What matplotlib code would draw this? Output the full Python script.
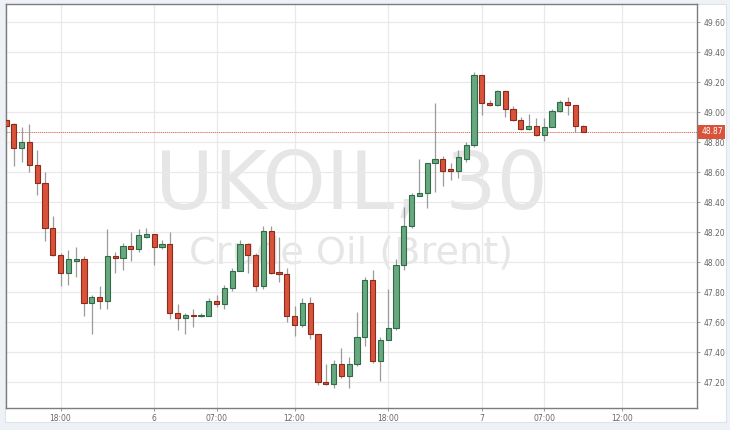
import matplotlib
matplotlib.use("Agg")
import matplotlib.pyplot as plt
import matplotlib.transforms as mtransforms
from matplotlib.patches import Rectangle
import numpy as np

# 30 minute candles (index 0 = 18:00 of day 5)
first_index = -7
opens = [48.95, 48.92, 48.76, 48.80, 48.65, 48.53, 48.23,
         48.05, 47.93, 48.01, 48.02, 47.73, 47.77, 47.74, 48.04, 48.03, 48.11,
         48.09, 48.17, 48.19, 48.10, 48.12, 47.66, 47.63, 47.65, 47.64, 47.64,
         47.74, 47.72, 47.83, 47.94, 48.12, 48.05, 47.84, 48.21, 47.935, 47.925,
         47.64, 47.58, 47.73, 47.52, 47.20, 47.19, 47.32, 47.24, 47.32, 47.50,
         47.88, 47.34, 47.48, 47.56, 47.98, 48.24, 48.445, 48.46, 48.66, 48.69,
         48.62, 48.61, 48.69, 48.78, 49.25, 49.06, 49.05, 49.14, 49.02, 48.95,
         48.89, 48.91, 48.85, 48.90, 49.01, 49.07, 49.05, 48.91]
highs = [48.96, 48.93, 48.90, 48.92, 48.75, 48.60, 48.31,
         48.06, 48.08, 48.10, 48.04, 47.78, 47.84, 48.22, 48.07, 48.13, 48.20,
         48.22, 48.23, 48.19, 48.15, 48.20, 47.72, 47.66, 47.69, 47.66, 47.76,
         47.78, 47.85, 47.96, 48.15, 48.13, 48.06, 48.24, 48.24, 48.17, 47.96,
         47.71, 47.76, 47.77, 47.52, 47.32, 47.35, 47.43, 47.37, 47.67, 47.90,
         47.95, 47.50, 47.82, 48.02, 48.37, 48.46, 48.69, 48.66, 49.06, 48.71,
         48.66, 48.75, 48.80, 49.27, 49.25, 49.085, 49.15, 49.14, 49.04, 48.97,
         48.99, 48.96, 48.96, 49.02, 49.08, 49.10, 49.05, 48.915]
lows = [48.84, 48.64, 48.67, 48.60, 48.45, 48.14, 48.04,
        47.84, 47.85, 47.90, 47.64, 47.52, 47.69, 47.69, 47.93, 47.95, 48.01,
        48.07, 48.16, 47.98, 48.09, 47.62, 47.55, 47.52, 47.57, 47.635, 47.64,
        47.70, 47.69, 47.81, 47.94, 47.93, 47.81, 47.82, 47.92, 47.87, 47.60,
        47.51, 47.57, 47.49, 47.18, 47.18, 47.16, 47.23, 47.16, 47.31, 47.44,
        47.33, 47.21, 47.48, 47.55, 47.95, 48.23, 48.44, 48.36, 48.47, 48.51,
        48.55, 48.56, 48.67, 48.77, 48.98, 49.04, 49.04, 48.97, 48.94, 48.885,
        48.885, 48.845, 48.81, 48.90, 49.00, 48.985, 48.87, 48.87]
closes = [48.91, 48.76, 48.80, 48.65, 48.53, 48.23, 48.05,
          47.93, 48.02, 48.02, 47.73, 47.77, 47.74, 48.04, 48.03, 48.11, 48.09,
          48.18, 48.19, 48.10, 48.12, 47.66, 47.63, 47.65, 47.64, 47.645, 47.74,
          47.72, 47.83, 47.94, 48.12, 48.05, 47.84, 48.21, 47.93, 47.925, 47.64,
          47.58, 47.73, 47.525, 47.20, 47.19, 47.32, 47.24, 47.32, 47.50, 47.88,
          47.34, 47.48, 47.56, 47.98, 48.24, 48.45, 48.46, 48.66, 48.69, 48.61,
          48.61, 48.70, 48.78, 49.25, 49.06, 49.05, 49.14, 49.02, 48.95, 48.89,
          48.91, 48.85, 48.90, 49.01, 49.07, 49.05, 48.91, 48.87]

last_price = 48.87
tick_index = [0, 12, 20, 30, 42, 54, 62, 72]
tick_text = ["18:00", "6", "07:00", "12:00", "18:00", "7", "07:00", "12:00"]
price_ticks = [47.20, 47.40, 47.60, 47.80, 48.00, 48.20, 48.40,
               48.60, 48.80, 49.00, 49.20, 49.40, 49.60]

up_fill, up_edge = "#68a880", "#2f6c46"
down_fill, down_edge = "#d9533b", "#8a2b1c"
wick_col = "#9b9b9b"
label_col = "#666666"

W, H = 730, 430
fig = plt.figure(figsize=(W / 100, H / 100), dpi=100)
fig.patch.set_facecolor("#eef2f6")
# white panel behind plot + labels
fig.patches.append(Rectangle((5 / W, 1 - 422 / H), 721 / W, 418 / H,
                             transform=fig.transFigure, facecolor="white",
                             edgecolor="#dde3ea", linewidth=0.8, zorder=-10))

ax = fig.add_axes([5.5 / W, 1 - 408 / H, 691.5 / W, 403.7 / H])
ax.set_facecolor("none")

x = np.arange(first_index, first_index + len(opens))
o = np.array(opens)
c = np.array(closes)
up = c >= o

# watermark
ax.text(0.5, 1 - (209 - 4.3) / 403.7, "UKOIL, 30", transform=ax.transAxes,
        ha="center", va="baseline", fontsize=58, color="#e6e6e6",
        family="DejaVu Sans", zorder=0)
ax.text(0.5, 1 - (263 - 4.3) / 403.7, "Crude Oil (Brent)", transform=ax.transAxes,
        ha="center", va="baseline", fontsize=27.5, color="#e6e6e6",
        family="DejaVu Sans", zorder=0)

ax.vlines(x, lows, highs, color=wick_col, linewidth=0.9, zorder=2)
body = np.maximum(np.abs(c - o), 0.008)
bottom = np.minimum(o, c)
ax.bar(x[up], body[up], bottom=bottom[up], width=0.66, color=up_fill,
       edgecolor=up_edge, linewidth=0.8, zorder=3)
ax.bar(x[~up], body[~up], bottom=bottom[~up], width=0.66, color=down_fill,
       edgecolor=down_edge, linewidth=0.8, zorder=3)

# last price line and tag
ax.axhline(last_price, color="#d9533b", linewidth=0.6, linestyle=(0, (1.5, 1)), zorder=1.5)
trans = mtransforms.blended_transform_factory(ax.transAxes, ax.transData)
ax.annotate(f"{last_price:.2f}", xy=(1, last_price), xycoords=trans,
            xytext=(3, 0), textcoords="offset points", ha="left", va="center",
            fontsize=5.5, color="white",
            bbox=dict(boxstyle="square,pad=0.35", fc="#d9533b", ec="none"),
            annotation_clip=False, zorder=5)

ax.set_xlim(-7.06, 81.6)
ax.set_ylim(47.03, 49.72)
ax.set_xticks(tick_index)
ax.set_xticklabels(tick_text)
ax.set_yticks(price_ticks)
ax.set_yticklabels([f"{p:.2f}" for p in price_ticks])
ax.yaxis.tick_right()
ax.grid(True, color="#e9e9e9", linewidth=0.9, zorder=1)
ax.set_axisbelow(True)
ax.tick_params(axis="both", labelsize=5.5, labelcolor=label_col, color="#888888",
               length=2.5, width=0.6, pad=2)
for side in ax.spines.values():
    side.set_color("#7d7d7d")
    side.set_linewidth(1.0)

fig.savefig("out.png", dpi=100, facecolor=fig.get_facecolor())
